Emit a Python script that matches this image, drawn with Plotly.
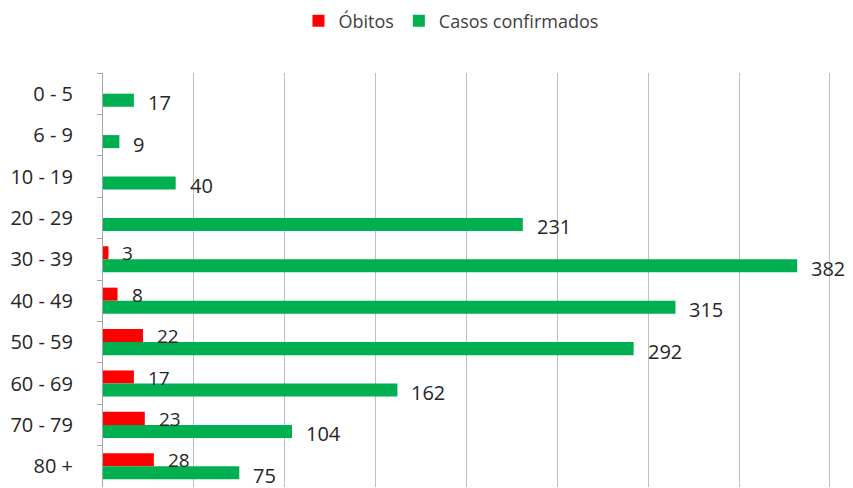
import plotly.graph_objects as go

categories = ["0 - 5", "6 - 9", "10 - 19", "20 - 29", "30 - 39",
              "40 - 49", "50 - 59", "60 - 69", "70 - 79", "80 +"]
obitos = [0, 0, 0, 0, 3, 8, 22, 17, 23, 28]
obitos_labels = ["", "", "", "", "3", "8", "22", "17", "23", "28"]
casos = [17, 9, 40, 231, 382, 315, 292, 162, 104, 75]

RED = "#ff0000"
GREEN = "#00b050"
FONT = "Open Sans"

fig = go.Figure()
fig.add_trace(go.Bar(y=categories, x=obitos, orientation="h", name="Óbitos",
                     marker=dict(color=RED, line=dict(width=0))))
fig.add_trace(go.Bar(y=categories, x=casos, orientation="h", name="Casos confirmados",
                     marker=dict(color=GREEN, line=dict(width=0))))

annotations = []
for cat, v, lab in zip(categories, obitos, obitos_labels):
    if lab:
        annotations.append(dict(x=v, y=cat, xref="x", yref="y", text=lab,
                                showarrow=False, xanchor="left", yanchor="middle",
                                xshift=12, yshift=6, font=dict(size=19, color="#262626", family=FONT)))
for cat, v in zip(categories, casos):
    annotations.append(dict(x=v, y=cat, xref="x", yref="y", text=str(v),
                            showarrow=False, xanchor="left", yanchor="middle",
                            xshift=12, yshift=-9, font=dict(size=20, color="#262626", family=FONT)))

fig.update_layout(
    width=853, height=488,
    margin=dict(l=103, r=22, t=73, b=1, autoexpand=False),
    paper_bgcolor="white", plot_bgcolor="white",
    barmode="group", bargap=0.37, bargroupgap=0,
    font=dict(family=FONT, color="#404040"),
    showlegend=True,
    legend=dict(orientation="h", x=0.478, xanchor="center", y=0.995, yanchor="top",
                yref="container", font=dict(size=18, color="#404040"),
                itemwidth=30, traceorder="normal"),
    annotations=annotations,
)
fig.update_xaxes(range=[0, 400.6], dtick=50, showgrid=True, gridcolor="#bfbfbf",
                 gridwidth=1, zeroline=False, showticklabels=False, showline=False)
fig.update_yaxes(autorange=False, range=[9.5, -0.5], type="category",
                 showline=True, linecolor="#a6a6a6", linewidth=1,
                 ticks="outside", tickson="boundaries", ticklen=5, tickcolor="#a6a6a6",
                 ticklabelstandoff=25,
                 tickfont=dict(size=20, color="#262626", family=FONT), showgrid=False)

fig.write_html("out.html", config={"displayModeBar": False},
               post_script="document.body.style.margin='0';")
